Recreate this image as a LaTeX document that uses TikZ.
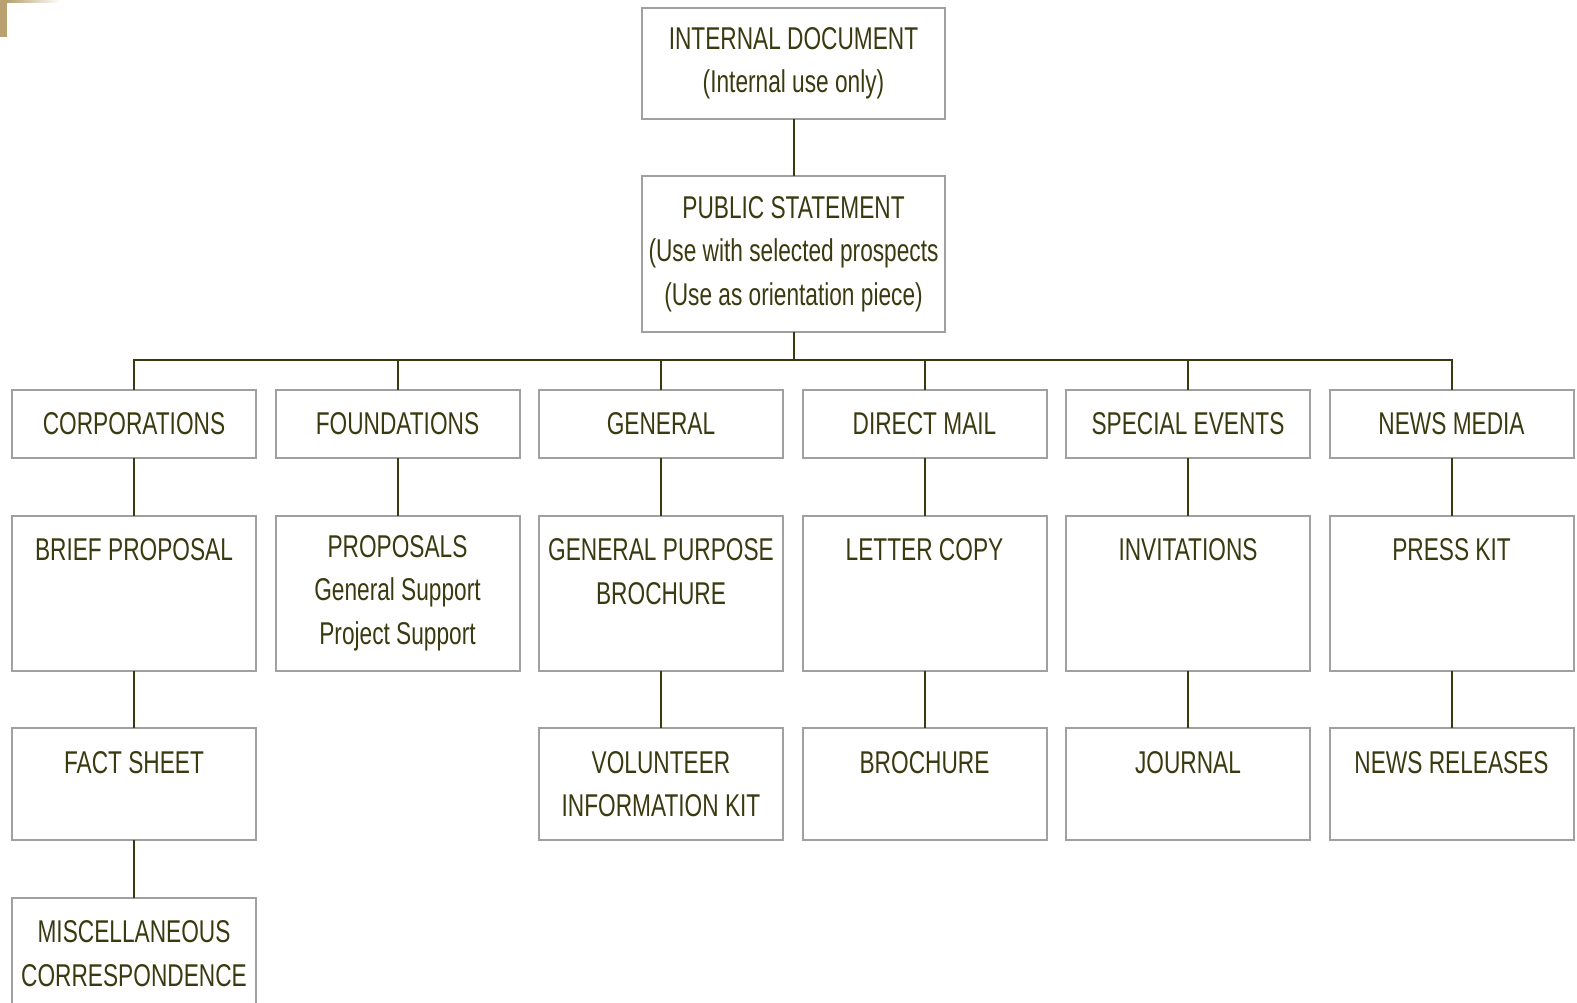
\documentclass[tikz,border=0pt]{standalone}
\usepackage{fontspec}
\setmainfont{Liberation Sans}[FakeStretch=0.72]
\usetikzlibrary{positioning}

\definecolor{ink}{RGB}{58,58,16}
\definecolor{rim}{RGB}{160,160,160}
\definecolor{deco}{RGB}{184,160,112}

\tikzset{
  unit/.style={draw=rim, line width=2pt, outer sep=0pt, inner sep=2pt, text=ink,
    align=center, minimum width=244pt, font=\fontsize{31.5}{43.5}\selectfont},
  docbox/.style={unit, minimum width=303pt},
  catbox/.style={unit, minimum height=68pt},
  tallbox/.style={unit, minimum height=155pt},
  lowbox/.style={unit, minimum height=112pt},
  link/.style={draw=ink, line width=2pt}
}

\begin{document}
\begin{tikzpicture}[x=1pt, y=-1pt, node distance=57.5pt and 19.5pt]
        \useasboundingbox (0,0) rectangle (1577,1003);
        \fill[deco] (0,0) rectangle (7,37);
        \shade[left color=deco, right color=white] (7,0) rectangle (60,2.5);

        \node[docbox, minimum height=111pt] (intdoc) at (793.5,63.5) {INTERNAL DOCUMENT\\(Internal use only)};
        \node[docbox, minimum height=155pt, below=of intdoc] (pubst) {PUBLIC STATEMENT\\(Use with selected prospects\\(Use as orientation piece)};

        \node[catbox] (corp) at (134,424) {CORPORATIONS};
        \node[catbox, right=of corp] (found) {FOUNDATIONS};
        \node[catbox, right=of found] (gen) {GENERAL};
        \node[catbox, right=of gen] (dmail) {DIRECT MAIL};
        \node[catbox, right=of dmail] (spev) {SPECIAL EVENTS};
        \node[catbox, right=of spev] (news) {NEWS MEDIA};

        \node[tallbox, below=of corp] (bprop) {BRIEF PROPOSAL\\ \mbox{}\\ \mbox{}};
        \node[tallbox, below=of found] (props) {PROPOSALS\\General Support\\Project Support};
        \node[tallbox, below=of gen] (gpb) {GENERAL PURPOSE\\BROCHURE\\ \mbox{}};
        \node[tallbox, below=of dmail] (letter) {LETTER COPY\\ \mbox{}\\ \mbox{}};
        \node[tallbox, below=of spev] (invit) {INVITATIONS\\ \mbox{}\\ \mbox{}};
        \node[tallbox, below=of news] (press) {PRESS KIT\\ \mbox{}\\ \mbox{}};

        \node[lowbox, below=of bprop] (fact) {FACT SHEET\\ \mbox{}};
        \node[lowbox, below=of gpb] (volkit) {VOLUNTEER\\INFORMATION KIT};
        \node[lowbox, below=of letter] (broch) {BROCHURE\\ \mbox{}};
        \node[lowbox, below=of invit] (journ) {JOURNAL\\ \mbox{}};
        \node[lowbox, below=of press] (nrel) {NEWS RELEASES\\ \mbox{}};

        \node[lowbox, below=of fact] (misc) {MISCELLANEOUS\\CORRESPONDENCE};

        \draw[link] (intdoc) -- (pubst);
        \draw[link] (pubst.south) -- ++(0,28.5) coordinate (bus);
        \draw[link] (bus) -| (corp);
        \draw[link] (bus) -| (found);
        \draw[link] (bus) -| (gen);
        \draw[link] (bus) -| (dmail);
        \draw[link] (bus) -| (spev);
        \draw[link] (bus) -| (news);

        \draw[link] (corp) -- (bprop);
        \draw[link] (found) -- (props);
        \draw[link] (gen) -- (gpb);
        \draw[link] (dmail) -- (letter);
        \draw[link] (spev) -- (invit);
        \draw[link] (news) -- (press);

        \draw[link] (bprop) -- (fact);
        \draw[link] (gpb) -- (volkit);
        \draw[link] (letter) -- (broch);
        \draw[link] (invit) -- (journ);
        \draw[link] (press) -- (nrel);
        \draw[link] (fact) -- (misc);
\end{tikzpicture}
\end{document}
